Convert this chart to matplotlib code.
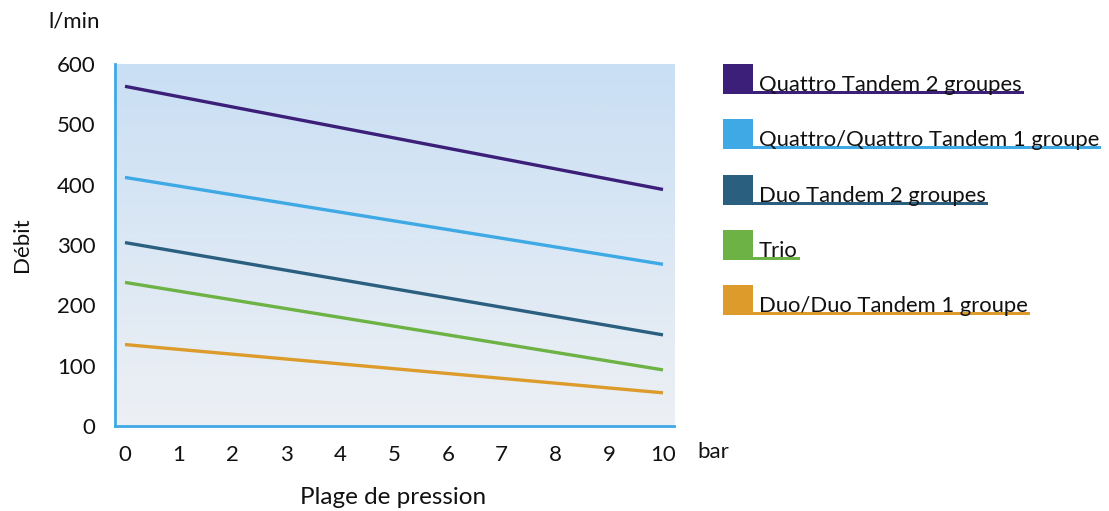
import numpy as np
from matplotlib import pyplot as plt
from matplotlib.patches import Rectangle
import matplotlib.colors as mcolors

plt.rcParams['font.family'] = ['Lato', 'DejaVu Sans']

# pressure range (bar) and flow (l/min) at both ends
pressure = [0, 10]
series_names = ['Quattro Tandem 2 groupes',
                'Quattro/Quattro Tandem 1 groupe',
                'Duo Tandem 2 groupes',
                'Trio',
                'Duo/Duo Tandem 1 groupe']
flow_values = [[563, 392],
               [412, 268],
               [304, 151],
               [238, 93],
               [135, 55]]
colors = ['#3b1f78', '#3fa9e6', '#2b5f80', '#6cb244', '#dc9b2a']
x_ticks = list(range(0, 11))
y_ticks = [0, 100, 200, 300, 400, 500, 600]

W, H = 1109, 511
fig = plt.figure(figsize=(W / 100, H / 100), dpi=100)

# plot area in pixels: left 115, right 674, top 64, bottom 426
ax = fig.add_axes([115 / W, 1 - 426 / H, (674 - 115) / W, (426 - 64) / H])

xlo, xhi = -10 / 53.8, 10 + 11 / 53.8
ax.set_xlim(xlo, xhi)
ax.set_ylim(0, 600)

# vertical gradient background
top_c = np.array(mcolors.to_rgb('#c9dff4'))
bot_c = np.array(mcolors.to_rgb('#edf0f4'))
t = np.linspace(0, 1, 256)[:, None]
grad = top_c * (1 - t) + bot_c * t
ax.imshow(grad[:, None, :].repeat(2, axis=1), extent=[xlo, xhi, 0, 600],
          aspect='auto', zorder=0, origin='upper')

for vals, c in zip(flow_values, colors):
    ax.plot(pressure, vals, color=c, lw=2.4, solid_capstyle='butt', zorder=3)

for s in ['top', 'right']:
    ax.spines[s].set_visible(False)
for s in ['left', 'bottom']:
    ax.spines[s].set_color('#3fa9e6')
    ax.spines[s].set_linewidth(2)

ax.set_xticks(x_ticks)
ax.set_yticks(y_ticks)
ax.tick_params(length=0, labelsize=16, colors='#111111')
ax.tick_params(axis='x', pad=14)
ax.tick_params(axis='y', pad=14)

fig.text(100 / W, 1 - 21 / H, 'l/min', fontsize=16, ha='right', va='center', color='#111111')
fig.text(22 / W, 1 - 245 / H, 'Débit', fontsize=16, rotation=90, ha='center', va='center', color='#111111')
fig.text(697 / W, 1 - 452 / H, 'bar', fontsize=16, ha='left', va='center', color='#111111')
fig.text(393 / W, 1 - 497 / H, 'Plage de pression', fontsize=17.5, ha='center', va='center', color='#111111')

# legend: square + label + underline
fig.canvas.draw()
renderer = fig.canvas.get_renderer()
row_tops = [64, 119, 175, 230, 285]
for name, c, top in zip(series_names, colors, row_tops):
    sq = Rectangle((723 / W, 1 - (top + 30) / H), 30 / W, 30 / H,
                   transform=fig.transFigure, color=c, lw=0)
    fig.add_artist(sq)
    txt = fig.text(759 / W, 1 - (top + 27) / H, name, fontsize=15.8,
                   ha='left', va='baseline', color='#111111')
    bb = txt.get_window_extent(renderer)
    x_end = min(bb.x1 + 2, W - 1)
    ul = Rectangle((753 / W, 1 - (top + 30) / H), (x_end - 753) / W, 3 / H,
                   transform=fig.transFigure, color=c, lw=0)
    fig.add_artist(ul)

fig.savefig('out.png', dpi=100)
